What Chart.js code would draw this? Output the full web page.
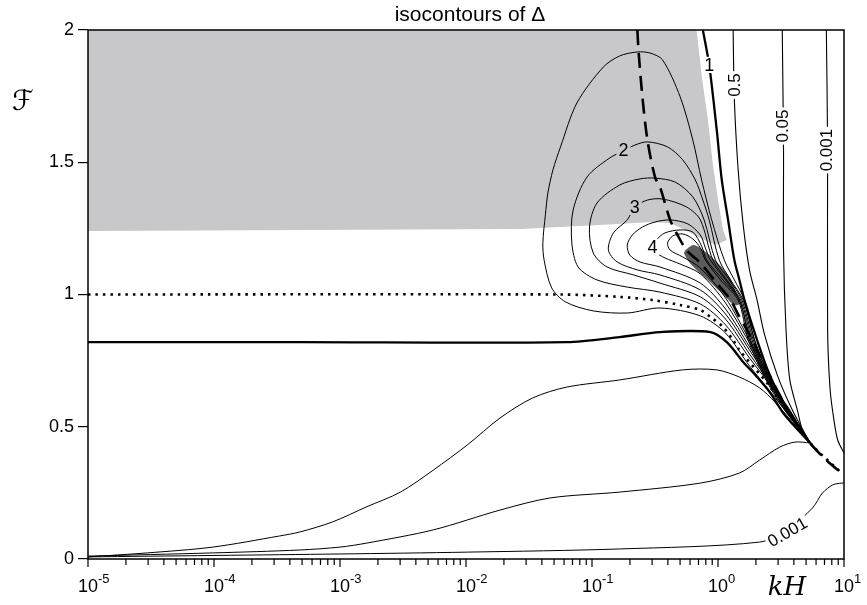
<!DOCTYPE html>
<html>
<head>
<meta charset="utf-8">
<script src="https://cdn.jsdelivr.net/npm/chart.js@4.4.1/dist/chart.umd.min.js"></script>
<style>
  html, body { margin: 0; padding: 0; background: #fff; }
  canvas { display: block; }
</style>
</head>
<body>
<canvas id="chart" width="867" height="605"></canvas>
<script>
// every point is [log10(kH), F]
const greyZone = [[-5,2.0],[-0.17,2.0],[-0.13,1.830],[-0.08,1.660],[-0.04,1.490],[0.00,1.357],[0.04,1.244],[0.07,1.206],
  [-0.02,1.187],[-0.14,1.214],[-0.26,1.244],[-0.38,1.270],[-0.52,1.274],[-0.94,1.263],[-1.57,1.248],[-5,1.240]];
const darkCore = [[-0.26,1.168],[-0.19,1.187],[-0.05,1.142],[0.09,1.066],[0.16,0.987],[0.17,0.964],[0.13,0.960],
  [0.06,0.991],[-0.08,1.055],[-0.21,1.112],[-0.26,1.146],[-0.27,1.157]];

const delta1Left = [[-5,0.820],[-3.32,0.820],[-1.20,0.820],[-0.78,0.839],[-0.46,0.858],[-0.06,0.858],[0.07,0.820],
  [0.20,0.745],[0.31,0.688],[0.41,0.631],[0.53,0.544],[0.73,0.439]];
const delta1Right = [[-0.12,2.0],[-0.07,1.868],[-0.01,1.622],[0.03,1.433],[0.08,1.282],[0.13,1.130],[0.17,1.055],
  [0.21,0.979],[0.31,0.828],[0.41,0.696],[0.53,0.582],[0.73,0.439]];
const delta05Right = [[0.12,2.0],[0.13,1.735],[0.16,1.471],[0.20,1.263],[0.25,1.093],[0.31,0.979],[0.37,0.847],
  [0.47,0.696],[0.59,0.563],[0.73,0.439]];
const delta005Right = [[0.51,2.0],[0.52,1.546],[0.52,1.168],[0.54,0.866],[0.57,0.677],[0.63,0.563],[0.67,0.488],[0.73,0.439]];
const delta0001Right = [[0.86,2.0],[0.87,1.546],[0.87,0.866],[0.89,0.639],[0.92,0.526],[0.95,0.450],[1.0,0.400]];

const delta05Low = [[-5,0.008],[-4.53,0.023],[-4.01,0.045],[-3.48,0.087],[-3.32,0.102],[-3.06,0.140],[-2.79,0.197],
  [-2.52,0.253],[-2.26,0.336],[-1.99,0.431],[-1.73,0.533],[-1.47,0.609],[-1.20,0.650],[-0.78,0.677],[-0.28,0.715],
  [-0.01,0.715],[0.17,0.688],[0.33,0.647],[0.45,0.594],[0.59,0.518],[0.73,0.439]];
const delta005Low = [[-5,0.011],[-4.01,0.023],[-3.32,0.034],[-3.0,0.045],[-2.79,0.060],[-2.26,0.110],[-1.73,0.185],
  [-1.33,0.231],[-0.78,0.253],[-0.14,0.287],[0.17,0.325],[0.33,0.374],[0.49,0.423],[0.61,0.442],[0.73,0.439]];
const delta0001Low = [[-5,0.008],[-3.0,0.019],[-1.99,0.026],[-0.78,0.038],[0.33,0.064],[0.55,0.110],[0.75,0.193],
  [0.83,0.250],[0.91,0.280],[0.98,0.287],[1.0,0.287]];

const delta15 = [[0.73,0.439],[0.45,0.612],[0.25,0.730],[0.06,0.854],[-0.14,0.919],[-0.46,0.949],[-0.72,0.930],
  [-0.99,0.938],[-1.21,0.972],[-1.32,1.025],[-1.38,1.130],[-1.39,1.195],[-1.37,1.301],[-1.35,1.384],[-1.31,1.471],
  [-1.25,1.558],[-1.12,1.724],[-0.91,1.860],[-0.78,1.902],[-0.64,1.917],[-0.54,1.913],[-0.44,1.887],[-0.30,1.747],
  [-0.20,1.584],[-0.13,1.433],[-0.05,1.282],[0.05,1.130],[0.13,1.055],[0.21,0.979],[0.29,0.828],[0.40,0.696],
  [0.52,0.582],[0.73,0.439]];
const delta2 = [[0.73,0.439],[0.45,0.635],[0.25,0.760],[0.06,0.885],[-0.14,0.964],[-0.46,1.009],[-0.72,1.028],
  [-0.96,1.055],[-1.11,1.104],[-1.16,1.195],[-1.15,1.319],[-1.04,1.444],[-0.86,1.516],[-0.75,1.543],[-0.66,1.565],
  [-0.56,1.577],[-0.40,1.558],[-0.28,1.509],[-0.18,1.433],[-0.12,1.357],[-0.07,1.282],[0.01,1.130],[0.10,1.055],
  [0.20,0.979],[0.29,0.828],[0.40,0.696],[0.52,0.582],[0.73,0.439]];
const delta25 = [[0.73,0.439],[0.45,0.639],[0.25,0.775],[0.06,0.907],[-0.14,0.991],[-0.46,1.043],[-0.67,1.074],
  [-0.88,1.104],[-0.99,1.157],[-1.02,1.255],[-0.96,1.346],[-0.78,1.414],[-0.62,1.437],[-0.50,1.440],[-0.34,1.425],
  [-0.20,1.369],[-0.11,1.282],[-0.02,1.130],[0.09,1.055],[0.19,0.979],[0.28,0.828],[0.39,0.696],[0.52,0.582],[0.73,0.439]];
const delta3 = [[0.73,0.439],[0.45,0.643],[0.25,0.790],[0.06,0.926],[-0.14,1.017],[-0.46,1.074],[-0.64,1.093],
  [-0.80,1.123],[-0.87,1.168],[-0.83,1.233],[-0.72,1.282],[-0.66,1.331],[-0.56,1.357],[-0.44,1.361],[-0.25,1.331],
  [-0.14,1.282],[-0.04,1.130],[0.07,1.055],[0.18,0.979],[0.27,0.828],[0.38,0.696],[0.52,0.582],[0.73,0.439]];
const delta35 = [[0.73,0.439],[0.45,0.647],[0.25,0.802],[0.06,0.945],[-0.14,1.043],[-0.46,1.104],[-0.62,1.123],
  [-0.70,1.149],[-0.72,1.187],[-0.68,1.225],[-0.60,1.255],[-0.50,1.274],[-0.38,1.282],[-0.24,1.267],[-0.14,1.225],
  [-0.10,1.176],[-0.06,1.130],[0.06,1.055],[0.17,0.979],[0.26,0.828],[0.37,0.696],[0.51,0.582],[0.73,0.439]];
const delta4 = [[0.73,0.439],[0.45,0.650],[0.25,0.817],[0.06,0.968],[-0.14,1.078],[-0.30,1.115],[-0.42,1.138],
  [-0.50,1.161],[-0.52,1.180],[-0.49,1.206],[-0.42,1.233],[-0.30,1.244],[-0.20,1.236],[-0.13,1.183],[-0.09,1.130],
  [0.04,1.055],[0.17,0.979],[0.25,0.828],[0.37,0.696],[0.51,0.582],[0.73,0.439]];
const delta45 = [[0.73,0.439],[0.45,0.654],[0.25,0.828],[0.06,0.987],[-0.14,1.100],[-0.28,1.142],[-0.38,1.168],
  [-0.40,1.195],[-0.36,1.221],[-0.28,1.229],[-0.20,1.210],[-0.14,1.176],[-0.10,1.130],[0.02,1.055],[0.16,0.979],
  [0.24,0.828],[0.36,0.696],[0.50,0.582],[0.73,0.439]];

const ridgeDashed = [[-0.64,2.0],[-0.63,1.917],[-0.60,1.747],[-0.56,1.584],[-0.50,1.444],[-0.46,1.406],[-0.38,1.282],
  [-0.33,1.233],[-0.25,1.168],[-0.14,1.119],[-0.01,1.043],[0.10,0.979],[0.17,0.915],[0.23,0.866],[0.37,0.733],
  [0.49,0.620],[0.61,0.526],[0.73,0.439],[0.86,0.374],[0.99,0.321]];
const fOneDotted = [[-5,1.0],[-1.25,1.0],[-0.78,0.991],[-0.52,0.979],[-0.30,0.960],[-0.14,0.941],[-0.06,0.915],
  [0.04,0.877],[0.12,0.828],[0.17,0.790],[0.39,0.665],[0.49,0.601],[0.61,0.526],[0.73,0.439],[0.99,0.321]];

const yTicks = [0, 0.5, 1, 1.5, 2];
const xDecades = [-5, -4, -3, -2, -1, 0, 1];

const labelText = ['1', '0.5', '0.05', '0.001', '2', '3', '4', '0.001'];
const labelAt = [[-0.07,1.868],[0.13,1.792],[0.51,1.637],[0.86,1.546],[-0.75,1.546],[-0.66,1.331],[-0.52,1.180],[0.55,0.102]];
const labelAngle = [0, -90, -90, -90, 0, 0, 0, -30];
const labelBg = ['#fff', '#fff', '#fff', '#fff', '#c8c8ca', '#c8c8ca', '#fff', '#fff'];

function toXY(pts) {
  return pts.map(p => ({ x: Math.pow(10, p[0]), y: p[1] }));
}

function curve(pts, width, dash) {
  return {
    data: toXY(pts),
    showLine: true,
    borderColor: '#000',
    borderWidth: width,
    borderDash: dash || [],
    pointRadius: 0,
    fill: false,
    tension: 0.3,
    order: 1
  };
}

const datasets = [
  { data: toXY(greyZone), showLine: true, borderWidth: 0, borderColor: 'rgba(0,0,0,0)',
    backgroundColor: '#c8c8ca', fill: 'shape', pointRadius: 0, tension: 0, order: 10 },
  { data: toXY(darkCore), showLine: true, borderWidth: 0, borderColor: 'rgba(0,0,0,0)',
    backgroundColor: '#5c5c5c', fill: 'shape', pointRadius: 0, tension: 0.3, order: 2 },
  curve(delta15, 1), curve(delta2, 1), curve(delta25, 1), curve(delta3, 1),
  curve(delta35, 1), curve(delta4, 1), curve(delta45, 1),
  curve(delta05Low, 1), curve(delta005Low, 1), curve(delta0001Low, 1),
  curve(delta05Right, 1.1), curve(delta005Right, 1.1), curve(delta0001Right, 1.1),
  curve(delta1Left, 2.3), curve(delta1Right, 2.3),
  curve(fOneDotted, 2.6, [2.5, 5]),
  curve(ridgeDashed, 2.6, [15, 8])
];

function drawLabel(ctx, text, px, py, angle, bg) {
  const size = angle === 0 ? 18 : 17;
  ctx.save();
  ctx.translate(px, py);
  ctx.rotate(angle * Math.PI / 180);
  ctx.font = size + 'px "Liberation Sans"';
  const w = ctx.measureText(text).width;
  ctx.fillStyle = bg;
  ctx.fillRect(-w / 2 - 2, -size * 0.45, w + 4, size * 0.9);
  ctx.fillStyle = '#000';
  ctx.textAlign = 'center';
  ctx.textBaseline = 'middle';
  ctx.fillText(text, 0, 1);
  ctx.restore();
}

const overlay = {
  id: 'overlay',
  afterDraw(chart) {
    const { ctx, chartArea: a, scales: { x, y } } = chart;
    ctx.save();

    // contour labels
    labelText.forEach((t, i) => {
      const px = x.getPixelForValue(Math.pow(10, labelAt[i][0]));
      const py = y.getPixelForValue(labelAt[i][1]);
      drawLabel(ctx, t, px, py, labelAngle[i], labelBg[i]);
    });

    // frame
    ctx.strokeStyle = '#000';
    ctx.lineWidth = 1.5;
    ctx.strokeRect(a.left, a.top, a.right - a.left, a.bottom - a.top);

    // x ticks, log minor ticks
    ctx.lineWidth = 1.2;
    xDecades.forEach(d => {
      for (let m = 1; m <= 9; m++) {
        if (d === 1 && m > 1) break;
        const px = x.getPixelForValue(m * Math.pow(10, d));
        ctx.beginPath();
        ctx.moveTo(px, a.bottom);
        ctx.lineTo(px, a.bottom + (m === 1 ? 8 : 6));
        ctx.stroke();
      }
    });

    // x tick labels 10^n
    ctx.fillStyle = '#000';
    ctx.textBaseline = 'alphabetic';
    ctx.textAlign = 'left';
    xDecades.forEach(d => {
      const px = x.getPixelForValue(Math.pow(10, d));
      ctx.font = '18px "Liberation Sans"';
      const x0 = px - 10;
      ctx.fillText('10', x0, 592);
      const w = ctx.measureText('10').width;
      ctx.font = '13px "Liberation Sans"';
      ctx.fillText(String(d), x0 + w, 583);
    });

    // axis titles and title
    ctx.font = 'italic 26px "DejaVu Serif"';
    ctx.textAlign = 'center';
    ctx.fillText('kH', 787, 595);
    ctx.font = '28px "DejaVu Sans"';
    ctx.fillText('\u2131', 23, 110);
    ctx.font = '21px "Liberation Sans"';
    ctx.fillText('isocontours of \u0394', (a.left + a.right) / 2 + 4, 21);

    ctx.restore();
  }
};

new Chart(document.getElementById('chart').getContext('2d'), {
  type: 'scatter',
  data: { datasets: datasets },
  options: {
    responsive: false,
    animation: false,
    layout: { padding: { left: 0, right: 23, top: 30, bottom: 0 } },
    plugins: { legend: { display: false }, tooltip: { enabled: false }, title: { display: false } },
    scales: {
      x: {
        type: 'logarithmic',
        min: 1e-5,
        max: 10,
        ticks: { display: false },
        grid: { display: false },
        border: { display: false },
        afterFit: s => { s.height = 46; }
      },
      y: {
        type: 'linear',
        min: 0,
        max: 2,
        afterBuildTicks: s => { s.ticks = yTicks.map(v => ({ value: v })); },
        ticks: {
          callback: v => String(v),
          color: '#000',
          padding: 4,
          font: { family: '"Liberation Sans"', size: 18 }
        },
        grid: { drawOnChartArea: false, drawTicks: true, tickLength: 10, color: '#000', lineWidth: 1.2 },
        border: { display: false },
        afterFit: s => { s.width = 88; }
      }
    }
  },
  plugins: [overlay]
});
</script>
</body>
</html>
